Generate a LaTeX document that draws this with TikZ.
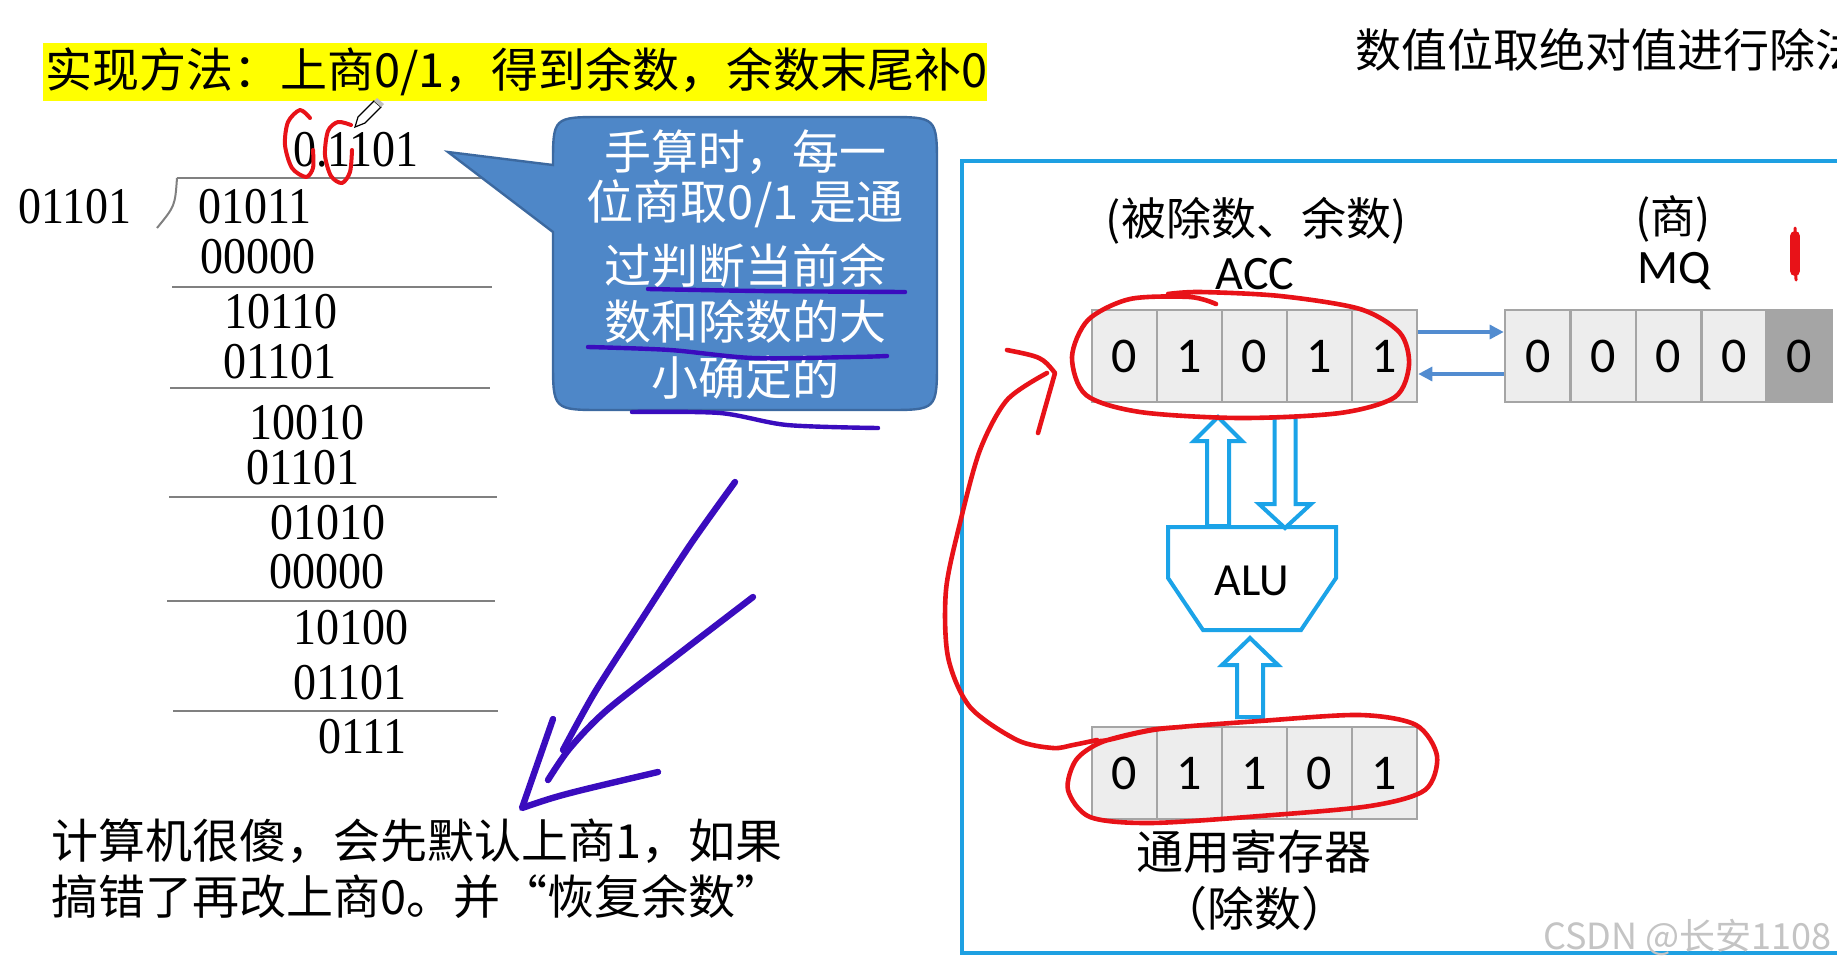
\documentclass[tikz,border=0pt]{standalone}
\usepackage{fontspec}
\setmainfont{Liberation Serif}
\newfontfamily\cjk{Noto Sans CJK SC}
\newfontfamily\calfont{Carlito}
\usetikzlibrary{arrows.meta}
\definecolor{hlyellow}{RGB}{255,255,0}
\definecolor{bubblefill}{RGB}{78,135,200}
\definecolor{bubbleline}{RGB}{60,105,160}
\definecolor{framecol}{RGB}{30,160,226}
\definecolor{alucol}{RGB}{27,163,232}
\definecolor{thinblue}{RGB}{82,140,208}
\definecolor{cellfill}{RGB}{237,237,237}
\definecolor{cellline}{RGB}{165,165,165}
\definecolor{darkcell}{RGB}{165,165,165}
\definecolor{penred}{RGB}{232,18,24}
\definecolor{penpurple}{RGB}{58,12,190}
\definecolor{divgrey}{RGB}{128,128,128}
\definecolor{wmgrey}{RGB}{196,196,196}
\newcommand\vst[1]{\scalebox{1}[1.12]{#1}}
\begin{document}
\begin{tikzpicture}[x=0.5pt,y=-0.5pt,
  cjktext/.style={font=\cjk\fontsize{23.5}{28}\selectfont, inner sep=0pt},
  numtxt/.style={font=\fontsize{23}{28}\selectfont, inner sep=0pt, anchor=west},
  divline/.style={draw=divgrey, line width=1pt},
  regcell/.style={draw=cellline, fill=cellfill, line width=1.3pt, minimum width=32.5pt, minimum height=46pt, inner sep=0pt, font=\calfont\fontsize{25}{30}\selectfont},
  mqcell/.style={regcell, minimum width=32.7pt},
  hollowarr/.style={draw=alucol, fill=white, line width=2pt, line join=miter},
  thinarr/.style={draw=thinblue, line width=1.6pt, -{Triangle[length=7pt,width=7pt]}},
  redpen/.style={draw=penred, line width=2.3pt, line cap=round, line join=round},
  purplepen/.style={draw=penpurple, line width=3.2pt, line cap=round, line join=round},
  ulpen/.style={draw=penpurple, line width=2.2pt, line cap=round},
  bubble/.style={fill=bubblefill, draw=bubbleline, line width=1.2pt},
  latinlab/.style={font=\calfont\fontsize{24}{28}\selectfont, inner sep=0pt}
]
\useasboundingbox (0,0) rectangle (1837,970);
\fill[white] (0,0) rectangle (1837,970);
\clip (0,0) rectangle (1837,970);

% title band
\fill[hlyellow] (43,43) rectangle (987,101);
\node[cjktext, anchor=west] (title) at (45,72) {实现方法：上商0/1，得到余数，余数末尾补0};
\node[cjktext, anchor=west, font=\cjk\fontsize{23}{28}\selectfont] (rtitle) at (1355,50) {数值位取绝对值进行除法};

% long division
\node[numtxt] (quot) at (293,150) {\vst{0.1101}};
\node[numtxt] (dvs) at (18,207) {\vst{01101}};
\node[numtxt] (r1) at (198,207) {\vst{01011}};
\node[numtxt] (s1) at (200,257) {\vst{00000}};
\node[numtxt] (r2) at (224,312) {\vst{10110}};
\node[numtxt] (s2) at (223,362) {\vst{01101}};
\node[numtxt] (r3) at (249,423) {\vst{10010}};
\node[numtxt] (s3) at (246,468) {\vst{01101}};
\node[numtxt] (r4) at (270,523) {\vst{01010}};
\node[numtxt] (s4) at (269,572) {\vst{00000}};
\node[numtxt] (r5) at (293,628) {\vst{10100}};
\node[numtxt] (s5) at (293,683) {\vst{01101}};
\node[numtxt] (r6) at (318,737) {\vst{0111}};
\draw[divline] (177,178) .. controls (175,206) .. (157,228);
\draw[divline] (177,178) -- (482,178);
\draw[divline] (172,287) -- (492,287);
\draw[divline] (170,388) -- (490,388);
\draw[divline] (169,497) -- (497,497);
\draw[divline] (167,601) -- (495,601);
\draw[divline] (173,711) -- (498,711);

% pencil cursor
\draw[black, line width=0.6pt, fill=white] (355,127) -- (358,117) -- (374,101) -- (381,107) -- (365,123) -- cycle;
\fill[gray!50] (374,101) -- (381,107) -- (384,104) -- (377,98) -- cycle;

% speech bubble
\draw[bubble] (448,152) -- (553,232) -- (553,360) .. controls (553,410) .. (603,410) -- (887,410) .. controls (937,410) .. (937,360) -- (937,167) .. controls (937,117) .. (887,117) -- (603,117) .. controls (553,117) .. (553,165) -- cycle;
\node[cjktext, text=white] (b1) at (745,152) {手算时，每一};
\node[cjktext, text=white] (b2) at (745,204) {位商取0/1 是通};
\node[cjktext, text=white] (b3) at (745,266) {过判断当前余};
\node[cjktext, text=white] (b4) at (745,322) {数和除数的大};
\node[cjktext, text=white] (b5) at (745,378) {小确定的};
\draw[ulpen] plot[smooth] coordinates {(648,289) (760,291) (905,292)};
\draw[ulpen] plot[smooth] coordinates {(588,347) (670,350) (753,358) (853,357) (887,356)};
\draw[ulpen] plot[smooth] coordinates {(632,412) (720,413) (787,425) (878,428)};

% purple arrow strokes
\draw[purplepen] plot[smooth] coordinates {(735,482) (690,545) (640,622) (595,692) (563,750)};
\draw[purplepen] plot[smooth] coordinates {(753,597) (680,653) (607,710) (570,748) (548,780)};
\draw[purplepen] (553,719) -- (522,808) .. controls (560,795) .. (658,772);

% bottom note
\node[cjktext, anchor=west] (note1) at (51,841) {计算机很傻，会先默认上商1，如果};
\node[cjktext, anchor=west] (note2) at (51,897) {搞错了再改上商0。并“恢复余数”};

% right panel frame
\draw[framecol, line width=2.2pt] (962,161) rectangle (1900,953);

\node[cjktext, font=\cjk\fontsize{22.5}{27}\selectfont] (acclab) at (1256,221) {(被除数、余数)};
\node[latinlab] (accname) at (1255,274) {ACC};
\node[cjktext, font=\cjk\fontsize{22.5}{27}\selectfont] (mqlab) at (1673,219) {(商)};
\node[latinlab] (mqname) at (1674,271) {MQ};

% ACC register
\node[regcell] (a1) at (1124.5,356) {0};
\node[regcell] (a2) at (1189.5,356) {1};
\node[regcell] (a3) at (1254.5,356) {0};
\node[regcell] (a4) at (1319.5,356) {1};
\node[regcell] (a5) at (1384.5,356) {1};
% MQ register
\node[mqcell] (m1) at (1537.7,356) {0};
\node[mqcell] (m2) at (1603.1,356) {0};
\node[mqcell] (m3) at (1668.5,356) {0};
\node[mqcell] (m4) at (1733.9,356) {0};
\node[mqcell, fill=darkcell] (m5) at (1799.3,356) {0};
% general register
\node[regcell] (g1) at (1124.5,773) {0};
\node[regcell] (g2) at (1189.5,773) {1};
\node[regcell] (g3) at (1254.5,773) {1};
\node[regcell] (g4) at (1319.5,773) {0};
\node[regcell] (g5) at (1384.5,773) {1};
\node[cjktext] (glab) at (1254,852) {通用寄存器};
\node[cjktext] (glab2) at (1254,909) {（除数）};

% ACC <-> MQ
\draw[thinarr] ([yshift=12pt]a5.east) -- ([yshift=12pt]m1.west);
\draw[thinarr] ([yshift=-9pt]m1.west) -- ([yshift=-9pt]a5.east);

% ALU
\draw[draw=alucol, line width=2pt, line join=miter] (1168,527) -- (1336,527) -- (1336,578) -- (1301,630) -- (1203,630) -- (1168,578) -- cycle;
\node[latinlab, font=\calfont\fontsize{23}{28}\selectfont] (alu) at (1252,581) {ALU};

% hollow block arrows
\draw[hollowarr] (1207,526) -- (1207,441) -- (1194,441) -- (1218,417) -- (1242,441) -- (1229,441) -- (1229,526) -- cycle;
\draw[hollowarr] (1274.5,417) -- (1274.5,504) -- (1259,504) -- (1285,528) -- (1311,504) -- (1295.5,504) -- (1295.5,417) -- cycle;
\draw[hollowarr] (1237,717) -- (1237,665) -- (1222,665) -- (1250,638) -- (1278,665) -- (1263,665) -- (1263,717) -- cycle;

% red annotations
\draw[redpen] plot[smooth] coordinates {(1216,304) (1190,297) (1130,299) (1088,320) (1072,357) (1086,395) (1140,412) (1240,418) (1340,413) (1395,397) (1409,365) (1400,333) (1360,309) (1280,296) (1200,292) (1168,294)};
\draw[redpen] plot[smooth] coordinates {(1097,741) (1108,740) (1160,729) (1260,721) (1360,715) (1416,725) (1437,756) (1425,790) (1370,806) (1260,816) (1150,823) (1090,817) (1068,790) (1076,760) (1102,742) (1150,730) (1182,727)};
\draw[redpen] plot[smooth] coordinates {(1047,373) (1007,400) (980,450) (960,523) (946,590) (948,657) (970,707) (1017,740) (1053,748) (1073,745) (1097,740)};
\draw[redpen] (1007,350) .. controls (1042,357) .. (1055,373) -- (1038,433);
\draw[penred, line width=5pt, line cap=round] (1795,236) -- (1795,271);
\draw[penred, line width=1.5pt, line cap=round] (1795,228) -- (1796,280);
\draw[redpen, line width=2pt] plot[smooth] coordinates {(310,118) (300,110) (288,122) (285,145) (292,168) (306,177) (313,168) (313,150)};
\draw[redpen, line width=2pt] plot[smooth] coordinates {(351,125) (338,122) (328,131) (325,155) (331,176) (342,183) (350,172) (352,150)};

% watermark
\node[cjktext, font=\cjk\fontsize{18}{22}\selectfont, text=wmgrey, anchor=west] (wm) at (1543,937) {CSDN @长安1108};
\end{tikzpicture}
\end{document}
